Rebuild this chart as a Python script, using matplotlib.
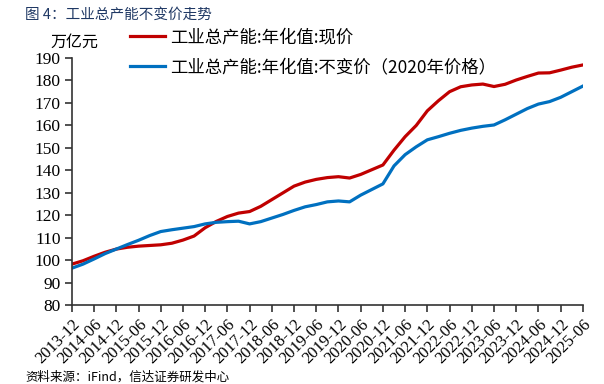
import matplotlib
matplotlib.use("Agg")
import matplotlib.pyplot as plt
import numpy as np

# quarterly points, 2013-12 .. 2025-06
quarters = ["2013-12", "2014-03", "2014-06", "2014-09", "2014-12", "2015-03", "2015-06", "2015-09",
            "2015-12", "2016-03", "2016-06", "2016-09", "2016-12", "2017-03", "2017-06", "2017-09",
            "2017-12", "2018-03", "2018-06", "2018-09", "2018-12", "2019-03", "2019-06", "2019-09",
            "2019-12", "2020-03", "2020-06", "2020-09", "2020-12", "2021-03", "2021-06", "2021-09",
            "2021-12", "2022-03", "2022-06", "2022-09", "2022-12", "2023-03", "2023-06", "2023-09",
            "2023-12", "2024-03", "2024-06", "2024-09", "2024-12", "2025-03", "2025-06"]

xianjia = [98.3, 99.8, 101.8, 103.6, 105.0, 105.8, 106.3, 106.6,
           106.9, 107.6, 109.0, 110.8, 114.5, 117.3, 119.5, 121.0,
           121.7, 124.0, 127.0, 130.0, 133.0, 134.8, 136.0, 136.8,
           137.2, 136.6, 138.2, 140.3, 142.4, 149.0, 155.0, 160.0,
           166.5, 171.0, 175.0, 177.2, 178.0, 178.4, 177.3, 178.3,
           180.2, 181.8, 183.3, 183.4, 184.6, 185.9, 186.9]

bubianjia = [96.5, 98.3, 100.6, 103.0, 105.0, 107.0, 108.9, 111.0,
             112.8, 113.6, 114.3, 115.0, 116.2, 116.9, 117.2, 117.4,
             116.2, 117.2, 118.8, 120.4, 122.2, 123.8, 124.8, 126.0,
             126.4, 126.0, 129.0, 131.5, 134.0, 142.0, 147.0, 150.5,
             153.6, 155.0, 156.5, 157.8, 158.8, 159.6, 160.2, 162.5,
             165.0, 167.5, 169.5, 170.6, 172.5, 175.0, 177.5]

labels = ["工业总产能:年化值:现价", "工业总产能:年化值:不变价（2020年价格）"]
yticks = list(range(80, 191, 10))

# serif digits by default, CJK text names its own family
plt.rcParams["font.family"] = ["Liberation Serif", "DejaVu Serif"]
cjk = ["Noto Sans CJK SC", "DejaVu Sans"]

fig = plt.figure(figsize=(6.04, 3.84), dpi=100)
ax = fig.add_axes([0.119, 0.205, 0.846, 0.644])

x = np.arange(len(quarters))
ax.plot(x, xianjia, color="#C00000", lw=2.3, label=labels[0])
ax.plot(x, bubianjia, color="#0070C0", lw=2.3, label=labels[1])

ax.set_xlim(0, len(quarters) - 1)
ax.set_ylim(80, 190)
ax.set_yticks(yticks)
ax.set_xticks(x[::2])
ax.set_xticklabels(quarters[::2], rotation=45, ha="right", rotation_mode="anchor")
ax.tick_params(axis="both", direction="out", length=5, width=1.2, color="#333333")
ax.tick_params(axis="x", pad=3, labelsize=12)
ax.tick_params(axis="y", pad=3, labelsize=12.5)

for s in ["top", "right"]:
    ax.spines[s].set_visible(False)
for s in ["left", "bottom"]:
    ax.spines[s].set_linewidth(1.2)
    ax.spines[s].set_color("#333333")

h, l = ax.get_legend_handles_labels()
fig.legend(h, l, loc="upper left", bbox_to_anchor=(130 / 604, 1 - 28 / 384), frameon=False,
           prop={"family": cjk, "size": 12.5}, handlelength=2.0,
           handletextpad=0.3, labelspacing=0.7, borderaxespad=0, borderpad=0)

fig.text(25 / 604, 1 - 15 / 384, "图 4：工业总产能不变价走势", family=cjk, fontsize=10.5,
         color="#1F3864", va="center")
fig.text(50 / 604, 1 - 42 / 384, "万亿元", family=cjk, fontsize=11.5, va="center")
fig.text(25 / 604, 0.0, "资料来源：iFind，信达证券研发中心", family=cjk, fontsize=9,
         style="italic", va="bottom")

fig.savefig("out.png", dpi=100)
